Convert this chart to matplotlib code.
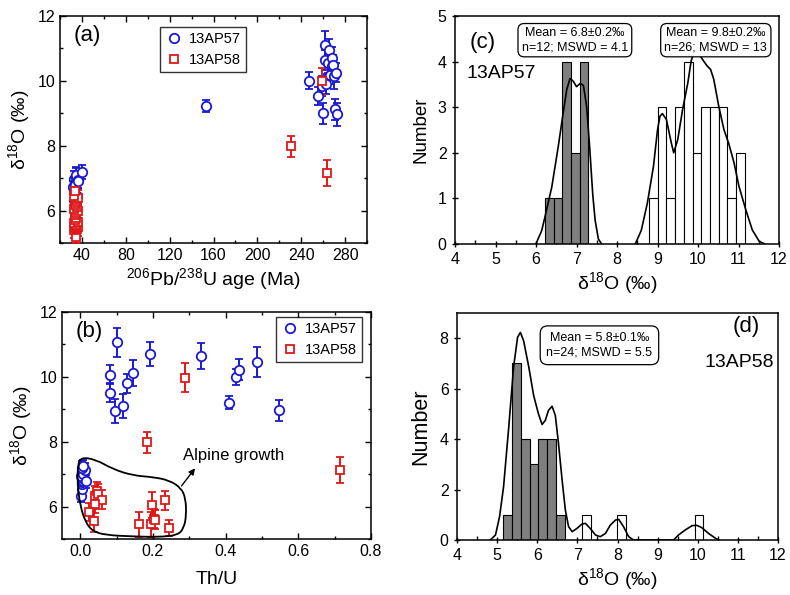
import numpy as np
import matplotlib
matplotlib.use("Agg")
import matplotlib.pyplot as plt
from matplotlib.lines import Line2D
from matplotlib.path import Path
from matplotlib.patches import PathPatch
from matplotlib.ticker import MultipleLocator

plt.rcParams['font.family'] = ['Liberation Sans', 'DejaVu Sans']
plt.rcParams['mathtext.fontset'] = 'custom'
plt.rcParams['mathtext.rm'] = 'Liberation Sans'
plt.rcParams['mathtext.it'] = 'Liberation Sans:italic'
plt.rcParams['mathtext.bf'] = 'Liberation Sans:bold'

BLUE = '#1a1ad0'
RED = '#e01818'

# ---------------- Panel (a): age vs d18O ----------------
a57_age = [32.0, 33.0, 34.5, 33.5, 35.0, 36.0, 34.0, 32.5, 35.5, 33.0, 36.5, 40.5,
           153.4, 246.9, 254.9, 258.6, 260.1, 261.5, 262.0, 264.0, 265.6, 266.2,
           267.7, 268.3, 269.3, 270.0, 271.4, 270.8, 273.0, 262.5]
a57_d18O = [6.72, 6.98, 7.05, 6.85, 7.10, 6.95, 6.80, 6.60, 6.45, 6.33, 6.90, 7.20,
            9.22, 10.01, 9.53, 9.84, 9.00, 11.10, 10.65, 10.55, 10.95, 10.19,
            10.45, 10.70, 10.50, 10.15, 10.25, 9.12, 8.97, 9.90]
a57_err = [0.20, 0.25, 0.30, 0.20, 0.22, 0.25, 0.20, 0.20, 0.22, 0.20, 0.25, 0.22,
           0.18, 0.25, 0.28, 0.30, 0.33, 0.45, 0.30, 0.30, 0.35, 0.30,
           0.30, 0.35, 0.30, 0.40, 0.30, 0.32, 0.35, 0.30]

a58_age = [34.5, 33.0, 35.5, 34.0, 36.0, 33.5, 35.0, 34.5, 33.0, 36.5, 34.0, 35.0,
           33.5, 34.5, 36.0, 33.0, 35.5, 34.0, 33.5, 35.0, 34.5, 36.0, 33.0, 34.0,
           231.0, 258.6, 263.1]
a58_d18O = [5.20, 5.40, 5.42, 5.45, 5.48, 5.50, 5.53, 5.56, 5.62, 5.66, 5.72, 5.78,
            5.86, 5.92, 6.00, 6.06, 6.12, 6.18, 6.22, 6.30, 6.35, 6.40, 6.45, 6.60,
            7.98, 9.99, 7.15]
a58_err = [0.20, 0.25, 0.30, 0.20, 0.25, 0.30, 0.22, 0.25, 0.30, 0.20, 0.25, 0.30,
           0.25, 0.30, 0.22, 0.25, 0.30, 0.25, 0.20, 0.30, 0.25, 0.22, 0.30, 0.25,
           0.33, 0.42, 0.40]

# ---------------- Panel (b): Th/U vs d18O ----------------
b57_thu = [0.082, 0.083, 0.097, 0.100, 0.119, 0.128, 0.146, 0.192, 0.333, 0.409,
           0.429, 0.436, 0.486, 0.547,
           0.002, 0.004, 0.005, 0.006, 0.008, 0.010, 0.003, 0.007, 0.012, 0.015, 0.004, 0.009]
b57_d18O = [10.07, 9.51, 8.95, 11.06, 9.10, 9.80, 10.12, 10.70, 10.63, 9.20,
            9.99, 10.22, 10.46, 8.97,
            6.33, 6.55, 6.70, 6.75, 6.80, 6.85, 6.95, 7.00, 7.12, 6.78, 7.20, 7.25]
b57_err = [0.30, 0.30, 0.36, 0.45, 0.36, 0.30, 0.40, 0.36, 0.40, 0.20,
           0.25, 0.33, 0.46, 0.33,
           0.20, 0.22, 0.20, 0.25, 0.20, 0.22, 0.20, 0.25, 0.22, 0.20, 0.20, 0.20]

b58_thu = [0.287, 0.183, 0.714,
           0.025, 0.037, 0.041, 0.045, 0.050, 0.060, 0.040,
           0.161, 0.195, 0.198, 0.204, 0.207, 0.232, 0.245]
b58_d18O = [9.97, 7.98, 7.13,
            5.82, 5.56, 6.33, 6.47, 6.40, 6.21, 6.09,
            5.45, 5.45, 6.04, 5.63, 5.60, 6.19, 5.35]
b58_err = [0.45, 0.32, 0.40,
           0.28, 0.35, 0.30, 0.30, 0.30, 0.30, 0.30,
           0.38, 0.38, 0.40, 0.30, 0.30, 0.30, 0.25]

# "Alpine growth" outline (Th/U, d18O)
blob_x = [0.002, 0.043, 0.089, 0.144, 0.200, 0.245, 0.278, 0.290, 0.292, 0.285,
          0.268, 0.218, 0.144, 0.071, 0.034, 0.014, 0.000, -0.007, -0.007]
blob_y = [7.52, 7.45, 7.16, 6.96, 6.91, 6.81, 6.57, 6.25, 5.73, 5.33,
          5.12, 5.06, 5.08, 5.12, 5.24, 5.53, 6.04, 6.65, 7.26]

# ---------------- Panel (c): 13AP57 histogram ----------------
c_young_left = [6.22, 6.435, 6.65, 6.865, 7.08]
c_young_count = [1, 1, 4, 2, 4]
c_old_left = [8.79, 9.005, 9.22, 9.435, 9.65, 9.865, 10.08, 10.295, 10.51, 10.725, 10.94]
c_old_count = [1, 3, 1, 3, 4, 2, 3, 3, 3, 1, 2]
c_bin_width = 0.215

c_curve1_x = [6.00, 6.06, 6.14, 6.22, 6.39, 6.55, 6.67, 6.76, 6.84, 6.92, 7.00, 7.09,
              7.17, 7.25, 7.33, 7.40, 7.46, 7.54, 7.62]
c_curve1_y = [0.00, 0.13, 0.29, 0.59, 1.25, 2.14, 2.87, 3.39, 3.63, 3.57, 3.45, 3.52,
              3.48, 3.02, 2.06, 1.10, 0.52, 0.11, 0.00]
c_curve2_x = [8.45, 8.60, 8.75, 8.90, 9.00, 9.06, 9.12, 9.22, 9.34, 9.40, 9.50, 9.62,
              9.75, 9.83, 9.95, 10.06, 10.14, 10.23, 10.31, 10.39, 10.51, 10.64,
              10.76, 10.89, 11.01, 11.18, 11.34, 11.51, 11.65]
c_curve2_y = [0.00, 0.30, 0.90, 1.70, 2.50, 2.80, 2.86, 2.73, 2.22, 2.00, 2.29, 2.95,
              3.54, 4.01, 4.35, 4.12, 4.01, 3.90, 3.83, 3.61, 3.03, 2.51,
              2.20, 1.78, 1.27, 0.75, 0.31, 0.06, 0.00]

# ---------------- Panel (d): 13AP58 histogram ----------------
d_young_left = [5.15, 5.37, 5.59, 5.81, 6.03, 6.25, 6.47]
d_young_count = [1, 7, 4, 3, 4, 4, 1]
d_old_left = [7.12, 7.99, 9.92]
d_old_count = [1, 1, 1]
d_bin_width = 0.22

d_curve_x = [4.83, 4.96, 5.06, 5.16, 5.29, 5.41, 5.51, 5.58, 5.66, 5.79, 5.91, 6.03,
             6.12, 6.20, 6.28, 6.37, 6.45, 6.53, 6.62, 6.70, 6.78, 6.87, 6.99, 7.11,
             7.20, 7.32, 7.45, 7.57, 7.70, 7.82, 7.95, 8.03, 8.15, 8.28, 8.40, 9.40,
             9.52, 9.69, 9.86, 9.98, 10.10, 10.27, 10.44, 10.52]
d_curve_y = [0.00, 0.20, 0.92, 2.10, 4.48, 6.85, 8.04, 8.23, 7.90, 6.85, 5.73, 5.00,
             4.58, 4.74, 5.14, 5.30, 4.94, 3.82, 2.37, 1.19, 0.53, 0.33, 0.46, 0.63,
             0.66, 0.46, 0.20, 0.13, 0.26, 0.59, 0.79, 0.82, 0.53, 0.13, 0.00, 0.00,
             0.20, 0.40, 0.57, 0.58, 0.49, 0.26, 0.07, 0.00]

fig = plt.figure(figsize=(7.9, 5.95), dpi=100)
ax_a = fig.add_axes([60/790, 1-243/595, 307/790, 227/595])
ax_b = fig.add_axes([62/790, 1-539/595, 309/790, 227/595])
ax_c = fig.add_axes([455/790, 1-244/595, 324/790, 228/595])
ax_d = fig.add_axes([457/790, 1-540/595, 321/790, 227/595])

def scatter_err(ax, x, y, e, color, marker, ms):
    ax.errorbar(x, y, yerr=e, fmt=marker, mfc='white', mec=color, ecolor=color,
                ms=ms, mew=1.3, elinewidth=1.4, capsize=2.8, capthick=1.4, zorder=3)

def style_scatter_axes(ax):
    ax.tick_params(which='both', direction='in', top=True, right=True, labelsize=11.5)
    ax.tick_params(which='major', length=4.5, width=1)
    ax.tick_params(which='minor', length=2.5, width=1)
    for s in ax.spines.values():
        s.set_linewidth(1.1)

# (a)
scatter_err(ax_a, a57_age, a57_d18O, a57_err, BLUE, 'o', 6.8)
scatter_err(ax_a, a58_age, a58_d18O, a58_err, RED, 's', 5.8)
ax_a.set_xlim(20, 300)
ax_a.set_ylim(5, 12)
ax_a.xaxis.set_major_locator(MultipleLocator(40))
ax_a.xaxis.set_minor_locator(MultipleLocator(20))
ax_a.set_xticks([40, 80, 120, 160, 200, 240, 280])
ax_a.yaxis.set_major_locator(MultipleLocator(2))
ax_a.yaxis.set_minor_locator(MultipleLocator(1))
style_scatter_axes(ax_a)
ax_a.set_xlabel('$^{206}$Pb/$^{238}$U age (Ma)', fontsize=14, labelpad=2)
ax_a.set_ylabel('δ$^{18}$O (‰)', fontsize=14, labelpad=4)
ax_a.text(0.045, 0.915, '(a)', transform=ax_a.transAxes, fontsize=16, va='center')
h1 = Line2D([], [], ls='none', marker='o', mfc='white', mec=BLUE, ms=6.8, mew=1.3)
h2 = Line2D([], [], ls='none', marker='s', mfc='white', mec=RED, ms=5.8, mew=1.3)
leg = ax_a.legend([h1, h2], ['13AP57', '13AP58'], loc='upper left',
                  bbox_to_anchor=(0.326, 0.95), fontsize=10.5, frameon=True,
                  fancybox=False, edgecolor='black', handletextpad=0.4,
                  borderpad=0.35, labelspacing=0.45, handlelength=1.2, borderaxespad=0)
leg.get_frame().set_linewidth(1.0)

# (b)
scatter_err(ax_b, b57_thu, b57_d18O, b57_err, BLUE, 'o', 6.8)
scatter_err(ax_b, b58_thu, b58_d18O, b58_err, RED, 's', 5.8)
pts = np.column_stack([blob_x, blob_y])
mids = (pts + np.roll(pts, -1, axis=0)) / 2
verts = [mids[-1]]
codes = [Path.MOVETO]
for i in range(len(pts)):
    verts += [pts[i], mids[i]]
    codes += [Path.CURVE3, Path.CURVE3]
ax_b.add_patch(PathPatch(Path(verts, codes), fc='none', ec='black', lw=1.3, zorder=4))
ax_b.annotate('', xy=(0.316, 7.18), xytext=(0.279, 6.64),
              arrowprops=dict(arrowstyle='-|>', color='black', lw=1.0,
                              mutation_scale=9, shrinkA=0, shrinkB=0))
ax_b.text(0.282, 7.57, 'Alpine growth', fontsize=12, va='center', ha='left')
ax_b.set_xlim(-0.05, 0.8)
ax_b.set_ylim(5, 12)
ax_b.xaxis.set_major_locator(MultipleLocator(0.2))
ax_b.xaxis.set_minor_locator(MultipleLocator(0.1))
ax_b.yaxis.set_major_locator(MultipleLocator(2))
ax_b.yaxis.set_minor_locator(MultipleLocator(1))
ax_b.set_xticks([0.0, 0.2, 0.4, 0.6, 0.8])
ax_b.set_xticklabels(['0.0', '0.2', '0.4', '0.6', '0.8'])
style_scatter_axes(ax_b)
ax_b.set_xlabel('Th/U', fontsize=14, labelpad=9)
ax_b.set_ylabel('δ$^{18}$O (‰)', fontsize=14, labelpad=4)
ax_b.text(0.045, 0.915, '(b)', transform=ax_b.transAxes, fontsize=16, va='center')
leg = ax_b.legend([h1, h2], ['13AP57', '13AP58'], loc='upper right',
                  bbox_to_anchor=(0.971, 0.978), fontsize=10.5, frameon=True,
                  fancybox=False, edgecolor='black', handletextpad=0.4,
                  borderpad=0.35, labelspacing=0.45, handlelength=1.2, borderaxespad=0)
leg.get_frame().set_linewidth(1.0)

def style_hist_axes(ax):
    ax.tick_params(which='major', direction='inout', length=5, width=1, labelsize=11.5)
    ax.tick_params(axis='x', which='minor', direction='in', length=3, width=1)
    ax.tick_params(axis='y', which='minor', left=False)
    for s in ax.spines.values():
        s.set_linewidth(1.1)
    ax.set_xlim(4, 12)
    ax.xaxis.set_major_locator(MultipleLocator(1))
    ax.xaxis.set_minor_locator(MultipleLocator(0.5))

box_c = dict(boxstyle='round,pad=0.3,rounding_size=0.5', fc='white', ec='black', lw=0.9)
box_d = dict(boxstyle='round,pad=0.5,rounding_size=0.6', fc='white', ec='black', lw=0.9)

# (c)
ax_c.bar(c_young_left, c_young_count, width=c_bin_width, align='edge',
         color='#7f7f7f', edgecolor='black', linewidth=0.8, zorder=2)
ax_c.bar(c_old_left, c_old_count, width=c_bin_width, align='edge',
         color='white', edgecolor='black', linewidth=0.8, zorder=2)
ax_c.plot(c_curve1_x, c_curve1_y, color='black', lw=1.2, zorder=3)
ax_c.plot(c_curve2_x, c_curve2_y, color='black', lw=1.2, zorder=3)
ax_c.set_ylim(0, 5)
ax_c.yaxis.set_major_locator(MultipleLocator(1))
style_hist_axes(ax_c)
ax_c.set_xlabel('δ$^{18}$O (‰)', fontsize=14, labelpad=2)
ax_c.set_ylabel('Number', fontsize=13.5, labelpad=6)
ax_c.text(4.35, 4.42, '(c)', fontsize=16, va='center')
ax_c.text(4.28, 3.73, '13AP57', fontsize=14, va='center')
ax_c.text(6.96, 4.47, 'Mean = 6.8±0.2‰\nn=12; MSWD = 4.1', fontsize=9,
          ha='center', va='center', bbox=box_c, zorder=5, linespacing=1.2)
ax_c.text(10.44, 4.47, 'Mean = 9.8±0.2‰\nn=26; MSWD = 13', fontsize=9,
          ha='center', va='center', bbox=box_c, zorder=5, linespacing=1.2)

# (d)
ax_d.bar(d_young_left, d_young_count, width=d_bin_width, align='edge',
         color='#7f7f7f', edgecolor='black', linewidth=0.8, zorder=2)
ax_d.bar(d_old_left, d_old_count, width=d_bin_width, align='edge',
         color='white', edgecolor='black', linewidth=0.8, zorder=2)
ax_d.plot(d_curve_x, d_curve_y, color='black', lw=1.2, zorder=3)
ax_d.set_ylim(0, 9)
ax_d.yaxis.set_major_locator(MultipleLocator(2))
style_hist_axes(ax_d)
ax_d.set_xlabel('δ$^{18}$O (‰)', fontsize=14, labelpad=2)
ax_d.set_ylabel('Number', fontsize=15.5, labelpad=6)
ax_d.text(11.55, 8.45, '(d)', fontsize=16, va='center', ha='right')
ax_d.text(11.9, 7.05, '13AP58', fontsize=14, va='center', ha='right')
ax_d.text(7.55, 7.72, 'Mean = 5.8±0.1‰\nn=24; MSWD = 5.5', fontsize=9,
          ha='center', va='center', bbox=box_d, zorder=5, linespacing=1.25)

fig.savefig('out.png', dpi=100)
